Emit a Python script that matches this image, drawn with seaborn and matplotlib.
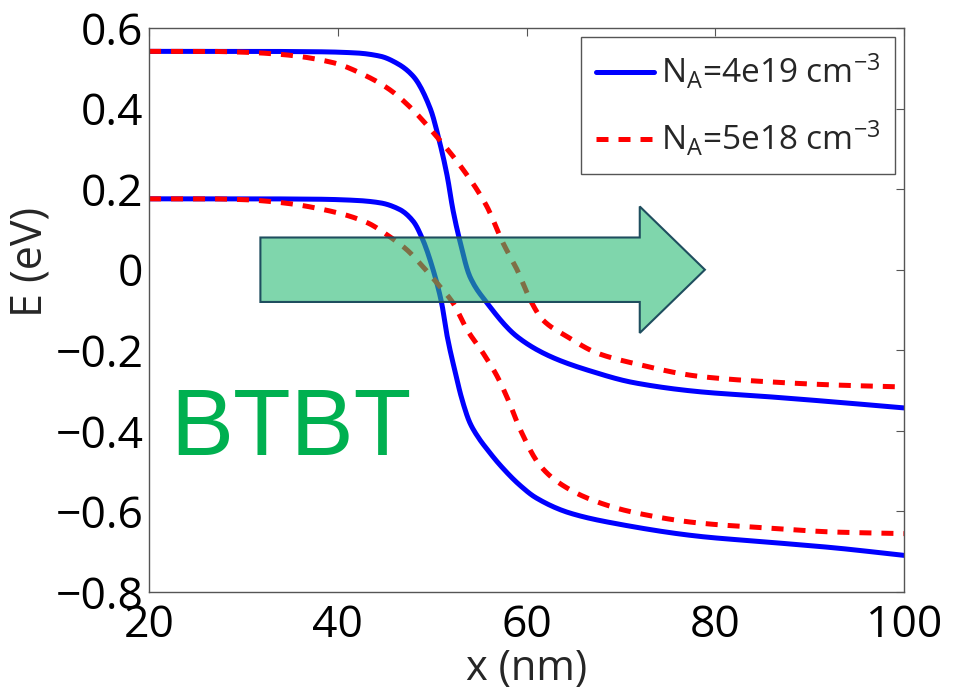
import numpy as np
import pandas as pd
import seaborn as sns
import matplotlib
matplotlib.use("Agg")
import matplotlib.pyplot as plt
import matplotlib.patches as mpatches
from matplotlib.lines import Line2D

# Band edges along the junction, x in nm, energy in eV
x_ec_hi = [20, 30, 38, 42, 44.5, 46.3, 48.0, 49.8, 50.8, 51.6, 52.2, 52.9, 54.0, 55.8, 59.0, 62.5, 67.0, 71.3, 78.4, 85.5, 92.5, 100]
ec_hi   = [0.542, 0.542, 0.541, 0.538, 0.53, 0.512, 0.48, 0.40, 0.316, 0.232, 0.149, 0.075, -0.017, -0.082, -0.166, -0.215, -0.253, -0.28, -0.303, -0.315, -0.328, -0.343]

x_ev_hi = [20, 30, 38, 42, 44.5, 46.6, 48.0, 49.0, 50.1, 51.0, 51.6, 52.4, 53.2, 54.0, 55.0, 55.8, 57.2, 59.3, 61.0, 64.6, 69.9, 78.4, 85.5, 92.5, 100]
ev_hi   = [0.176, 0.176, 0.175, 0.172, 0.166, 0.149, 0.12, 0.075, 0.0, -0.082, -0.166, -0.25, -0.325, -0.38, -0.42, -0.445, -0.485, -0.535, -0.566, -0.604, -0.632, -0.662, -0.676, -0.69, -0.709]

x_ec_lo = [20, 26, 30, 34.2, 39.5, 43.1, 45.5, 47.6, 50.5, 53.3, 55.8, 57.5, 59.0, 60.4, 61.7, 64.3, 67.5, 71.3, 78.4, 85.5, 92.5, 100]
ec_lo   = [0.542, 0.542, 0.54, 0.534, 0.514, 0.48, 0.447, 0.405, 0.33, 0.248, 0.157, 0.067, 0.0, -0.075, -0.124, -0.166, -0.207, -0.232, -0.265, -0.278, -0.286, -0.291]

x_ev_lo = [20, 26, 30, 34.2, 39.5, 43.1, 45.5, 47.3, 49.0, 50.8, 52.2, 53.7, 55.4, 56.9, 58.2, 59.3, 61.4, 63.5, 67.0, 71.3, 78.4, 85.5, 92.5, 100]
ev_lo   = [0.176, 0.176, 0.174, 0.166, 0.144, 0.117, 0.082, 0.05, 0.008, -0.041, -0.082, -0.149, -0.207, -0.265, -0.331, -0.395, -0.485, -0.53, -0.572, -0.602, -0.629, -0.641, -0.651, -0.655]

legend_labels = [r"N$_A$=4e19 cm$^{-3}$", r"N$_A$=5e18 cm$^{-3}$"]
x_ticks = [20, 40, 60, 80, 100]
y_ticks = [0.6, 0.4, 0.2, 0, -0.2, -0.4, -0.6, -0.8]

# Tunnelling direction arrow (data units)
arrow_x0, arrow_x1 = 31.8, 78.9
arrow_y = 0.0
arrow_body = 0.16
arrow_head = 0.314
arrow_head_len = 6.9

sns.set_theme(style="white")
plt.rcParams["font.family"] = ["Open Sans", "DejaVu Sans"]
plt.rcParams["mathtext.default"] = "regular"

fig = plt.figure(figsize=(9.56, 6.93), dpi=100)
ax = fig.add_axes([0.1559, 0.1457, 0.7897, 0.8139])

blue = "#0000ff"
red = "#ff0000"
lw = 3.6
dash = (0, (2.4, 2.0))


def smooth(xs, ys, n=500):
    """Monotone cubic (PCHIP-style) resampling of a band-edge profile."""
    xs = np.asarray(xs, float)
    ys = np.asarray(ys, float)
    h = np.diff(xs)
    d = np.diff(ys) / h
    m = np.zeros_like(ys)
    for i in range(1, len(xs) - 1):
        if d[i - 1] * d[i] > 0:
            w1 = 2 * h[i] + h[i - 1]
            w2 = h[i] + 2 * h[i - 1]
            m[i] = (w1 + w2) / (w1 / d[i - 1] + w2 / d[i])
    m[0] = d[0]
    m[-1] = d[-1]
    xf = np.linspace(xs[0], xs[-1], n)
    idx = np.clip(np.searchsorted(xs, xf) - 1, 0, len(xs) - 2)
    t = (xf - xs[idx]) / h[idx]
    h00 = 2 * t**3 - 3 * t**2 + 1
    h10 = t**3 - 2 * t**2 + t
    h01 = -2 * t**3 + 3 * t**2
    h11 = t**3 - t**2
    yf = h00 * ys[idx] + h10 * h[idx] * m[idx] + h01 * ys[idx + 1] + h11 * h[idx] * m[idx + 1]
    return pd.DataFrame({"x": xf, "E": yf})


for xs, ys in [(x_ec_hi, ec_hi), (x_ev_hi, ev_hi)]:
    sns.lineplot(data=smooth(xs, ys), x="x", y="E", color=blue, lw=lw,
                 ax=ax, estimator=None, sort=False)
for xs, ys in [(x_ec_lo, ec_lo), (x_ev_lo, ev_lo)]:
    sns.lineplot(data=smooth(xs, ys), x="x", y="E", color=red, lw=lw,
                 ax=ax, estimator=None, sort=False, linestyle=dash)

arrow = mpatches.FancyArrow(arrow_x0, arrow_y, arrow_x1 - arrow_x0, 0,
                            width=arrow_body, head_width=arrow_head,
                            head_length=arrow_head_len, length_includes_head=True,
                            facecolor="#2abb75", edgecolor="none",
                            alpha=0.6, zorder=5)
ax.add_patch(arrow)
arrow_edge = mpatches.FancyArrow(arrow_x0, arrow_y, arrow_x1 - arrow_x0, 0,
                                 width=arrow_body, head_width=arrow_head,
                                 head_length=arrow_head_len, length_includes_head=True,
                                 fill=False, edgecolor="#1f4e5f", lw=1.5, zorder=6)
ax.add_patch(arrow_edge)

ax.text(22.2, -0.46, "BTBT", color="#00b050", fontsize=68,
        family=["Liberation Sans", "DejaVu Sans"], ha="left", va="baseline")

ax.set_xlim(20, 100)
ax.set_ylim(-0.8, 0.6)
ax.set_xticks(x_ticks)
ax.set_yticks(y_ticks)
ax.set_xticklabels([str(v) for v in x_ticks])
ax.set_yticklabels(["0" if v == 0 else f"{v:.1f}".replace("-", "\u2212") for v in y_ticks])
ax.tick_params(direction="in", length=6, width=0.8, color="#555555",
               labelsize=32, top=True, right=True, pad=4, labelcolor="black")
ax.tick_params(axis="x", pad=8)
for s in ax.spines.values():
    s.set_color("#555555")
    s.set_linewidth(1.0)
ax.set_xlabel("x (nm)", fontsize=30)
ax.xaxis.set_label_coords(0.5, -0.1)
ax.set_ylabel("E (eV)", fontsize=31)
ax.yaxis.set_label_coords(-0.128, 0.585)

handles = [Line2D([], [], color=blue, lw=lw),
           Line2D([], [], color=red, lw=lw, linestyle=dash)]
leg = ax.legend(handles, legend_labels, loc="upper right",
                bbox_to_anchor=(0.988, 0.984), borderaxespad=0,
                fontsize=24, frameon=True, fancybox=False, framealpha=1,
                edgecolor="#555555", handlelength=1.75, handletextpad=0.2,
                labelspacing=0.85, borderpad=0.45)
leg.get_frame().set_linewidth(1.0)
leg.set_zorder(10)

fig.savefig("out.png", dpi=100, facecolor="white")
